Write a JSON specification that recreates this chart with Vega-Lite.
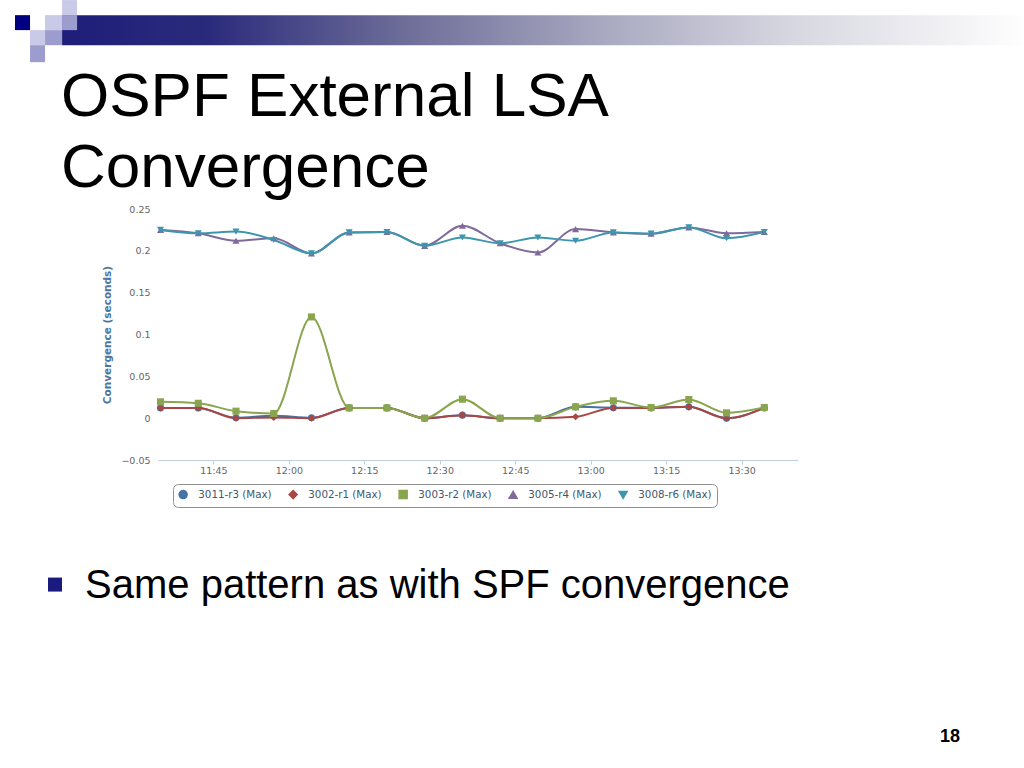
{
  "$schema": "https://vega.github.io/schema/vega-lite/v6.json",
  "width": 640,
  "height": 251,
  "autosize": {"type": "none"},
  "padding": {"left": 158, "top": 209, "right": 226, "bottom": 308},
  "background": "#ffffff",
  "config": {"view": {"stroke": null}},
  "title": {
    "text": ["OSPF External LSA", "Convergence"],
    "anchor": "start",
    "frame": "group",
    "font": "Liberation Sans",
    "fontSize": 62,
    "fontWeight": "normal",
    "color": "#000000",
    "lineHeight": 71,
    "dx": -97,
    "offset": -200
  },
  "datasets": {
    "conv": [
      {"series": "3011-r3 (Max)", "time": "2013-01-01T11:34:30", "value": 0.0123},
      {"series": "3011-r3 (Max)", "time": "2013-01-01T11:42:00", "value": 0.0123},
      {"series": "3011-r3 (Max)", "time": "2013-01-01T11:49:30", "value": 0.0005},
      {"series": "3011-r3 (Max)", "time": "2013-01-01T11:57:00", "value": 0.003},
      {"series": "3011-r3 (Max)", "time": "2013-01-01T12:04:30", "value": 0.0005},
      {"series": "3011-r3 (Max)", "time": "2013-01-01T12:12:00", "value": 0.0123},
      {"series": "3011-r3 (Max)", "time": "2013-01-01T12:19:30", "value": 0.0123},
      {"series": "3011-r3 (Max)", "time": "2013-01-01T12:27:00", "value": 0},
      {"series": "3011-r3 (Max)", "time": "2013-01-01T12:34:30", "value": 0.0036},
      {"series": "3011-r3 (Max)", "time": "2013-01-01T12:42:00", "value": 0},
      {"series": "3011-r3 (Max)", "time": "2013-01-01T12:49:30", "value": 0},
      {"series": "3011-r3 (Max)", "time": "2013-01-01T12:57:00", "value": 0.0135},
      {"series": "3011-r3 (Max)", "time": "2013-01-01T13:04:30", "value": 0.0125},
      {"series": "3011-r3 (Max)", "time": "2013-01-01T13:12:00", "value": 0.0123},
      {"series": "3011-r3 (Max)", "time": "2013-01-01T13:19:30", "value": 0.0135},
      {"series": "3011-r3 (Max)", "time": "2013-01-01T13:27:00", "value": 0},
      {"series": "3011-r3 (Max)", "time": "2013-01-01T13:34:30", "value": 0.0123},
      {"series": "3002-r1 (Max)", "time": "2013-01-01T11:34:30", "value": 0.0123},
      {"series": "3002-r1 (Max)", "time": "2013-01-01T11:42:00", "value": 0.0123},
      {"series": "3002-r1 (Max)", "time": "2013-01-01T11:49:30", "value": 0},
      {"series": "3002-r1 (Max)", "time": "2013-01-01T11:57:00", "value": 0.0008},
      {"series": "3002-r1 (Max)", "time": "2013-01-01T12:04:30", "value": 0},
      {"series": "3002-r1 (Max)", "time": "2013-01-01T12:12:00", "value": 0.0123},
      {"series": "3002-r1 (Max)", "time": "2013-01-01T12:19:30", "value": 0.0123},
      {"series": "3002-r1 (Max)", "time": "2013-01-01T12:27:00", "value": 0},
      {"series": "3002-r1 (Max)", "time": "2013-01-01T12:34:30", "value": 0.0036},
      {"series": "3002-r1 (Max)", "time": "2013-01-01T12:42:00", "value": 0},
      {"series": "3002-r1 (Max)", "time": "2013-01-01T12:49:30", "value": 0},
      {"series": "3002-r1 (Max)", "time": "2013-01-01T12:57:00", "value": 0.0016},
      {"series": "3002-r1 (Max)", "time": "2013-01-01T13:04:30", "value": 0.0123},
      {"series": "3002-r1 (Max)", "time": "2013-01-01T13:12:00", "value": 0.0123},
      {"series": "3002-r1 (Max)", "time": "2013-01-01T13:19:30", "value": 0.0135},
      {"series": "3002-r1 (Max)", "time": "2013-01-01T13:27:00", "value": 0},
      {"series": "3002-r1 (Max)", "time": "2013-01-01T13:34:30", "value": 0.0123},
      {"series": "3003-r2 (Max)", "time": "2013-01-01T11:34:30", "value": 0.0195},
      {"series": "3003-r2 (Max)", "time": "2013-01-01T11:42:00", "value": 0.0178},
      {"series": "3003-r2 (Max)", "time": "2013-01-01T11:49:30", "value": 0.0084},
      {"series": "3003-r2 (Max)", "time": "2013-01-01T11:57:00", "value": 0.0056},
      {"series": "3003-r2 (Max)", "time": "2013-01-01T12:04:30", "value": 0.121},
      {"series": "3003-r2 (Max)", "time": "2013-01-01T12:12:00", "value": 0.0123},
      {"series": "3003-r2 (Max)", "time": "2013-01-01T12:19:30", "value": 0.0123},
      {"series": "3003-r2 (Max)", "time": "2013-01-01T12:27:00", "value": 0},
      {"series": "3003-r2 (Max)", "time": "2013-01-01T12:34:30", "value": 0.0227},
      {"series": "3003-r2 (Max)", "time": "2013-01-01T12:42:00", "value": 0},
      {"series": "3003-r2 (Max)", "time": "2013-01-01T12:49:30", "value": 0},
      {"series": "3003-r2 (Max)", "time": "2013-01-01T12:57:00", "value": 0.0135},
      {"series": "3003-r2 (Max)", "time": "2013-01-01T13:04:30", "value": 0.0207},
      {"series": "3003-r2 (Max)", "time": "2013-01-01T13:12:00", "value": 0.0128},
      {"series": "3003-r2 (Max)", "time": "2013-01-01T13:19:30", "value": 0.0223},
      {"series": "3003-r2 (Max)", "time": "2013-01-01T13:27:00", "value": 0.0064},
      {"series": "3003-r2 (Max)", "time": "2013-01-01T13:34:30", "value": 0.0128},
      {"series": "3005-r4 (Max)", "time": "2013-01-01T11:34:30", "value": 0.225},
      {"series": "3005-r4 (Max)", "time": "2013-01-01T11:42:00", "value": 0.221},
      {"series": "3005-r4 (Max)", "time": "2013-01-01T11:49:30", "value": 0.212},
      {"series": "3005-r4 (Max)", "time": "2013-01-01T11:57:00", "value": 0.215},
      {"series": "3005-r4 (Max)", "time": "2013-01-01T12:04:30", "value": 0.197},
      {"series": "3005-r4 (Max)", "time": "2013-01-01T12:12:00", "value": 0.222},
      {"series": "3005-r4 (Max)", "time": "2013-01-01T12:19:30", "value": 0.2225},
      {"series": "3005-r4 (Max)", "time": "2013-01-01T12:27:00", "value": 0.206},
      {"series": "3005-r4 (Max)", "time": "2013-01-01T12:34:30", "value": 0.23},
      {"series": "3005-r4 (Max)", "time": "2013-01-01T12:42:00", "value": 0.209},
      {"series": "3005-r4 (Max)", "time": "2013-01-01T12:49:30", "value": 0.198},
      {"series": "3005-r4 (Max)", "time": "2013-01-01T12:57:00", "value": 0.226},
      {"series": "3005-r4 (Max)", "time": "2013-01-01T13:04:30", "value": 0.222},
      {"series": "3005-r4 (Max)", "time": "2013-01-01T13:12:00", "value": 0.2205},
      {"series": "3005-r4 (Max)", "time": "2013-01-01T13:19:30", "value": 0.228},
      {"series": "3005-r4 (Max)", "time": "2013-01-01T13:27:00", "value": 0.221},
      {"series": "3005-r4 (Max)", "time": "2013-01-01T13:34:30", "value": 0.2225},
      {"series": "3008-r6 (Max)", "time": "2013-01-01T11:34:30", "value": 0.225},
      {"series": "3008-r6 (Max)", "time": "2013-01-01T11:42:00", "value": 0.221},
      {"series": "3008-r6 (Max)", "time": "2013-01-01T11:49:30", "value": 0.223},
      {"series": "3008-r6 (Max)", "time": "2013-01-01T11:57:00", "value": 0.213},
      {"series": "3008-r6 (Max)", "time": "2013-01-01T12:04:30", "value": 0.197},
      {"series": "3008-r6 (Max)", "time": "2013-01-01T12:12:00", "value": 0.222},
      {"series": "3008-r6 (Max)", "time": "2013-01-01T12:19:30", "value": 0.2225},
      {"series": "3008-r6 (Max)", "time": "2013-01-01T12:27:00", "value": 0.206},
      {"series": "3008-r6 (Max)", "time": "2013-01-01T12:34:30", "value": 0.216},
      {"series": "3008-r6 (Max)", "time": "2013-01-01T12:42:00", "value": 0.209},
      {"series": "3008-r6 (Max)", "time": "2013-01-01T12:49:30", "value": 0.216},
      {"series": "3008-r6 (Max)", "time": "2013-01-01T12:57:00", "value": 0.212},
      {"series": "3008-r6 (Max)", "time": "2013-01-01T13:04:30", "value": 0.222},
      {"series": "3008-r6 (Max)", "time": "2013-01-01T13:12:00", "value": 0.2205},
      {"series": "3008-r6 (Max)", "time": "2013-01-01T13:19:30", "value": 0.228},
      {"series": "3008-r6 (Max)", "time": "2013-01-01T13:27:00", "value": 0.215},
      {"series": "3008-r6 (Max)", "time": "2013-01-01T13:34:30", "value": 0.2225}
    ],
    "page": [{"label": "18"}],
    "bullet": [{"label": "Same pattern as with SPF convergence"}],
    "deco": [{"part": "decoration"}]
  },
  "layer": [
    {
      "data": {"name": "deco"},
      "mark": {"type": "rect", "fill": {"gradient": "linear", "x1": 0, "y1": 0, "x2": 1, "y2": 0, "stops": [{"offset": 0, "color": "#1e1e7a"}, {"offset": 0.15, "color": "#2a2a7c"}, {"offset": 0.35, "color": "#6c6c98"}, {"offset": 0.55, "color": "#a6a6bf"}, {"offset": 0.75, "color": "#d6d6e0"}, {"offset": 1, "color": "#ffffff"}]}},
      "encoding": {
        "x": {"datum": {"year": 2013, "month": 1, "date": 1, "hours": 11, "minutes": 14, "seconds": 56}, "type": "temporal"},
        "x2": {"datum": {"year": 2013, "month": 1, "date": 1, "hours": 14, "minutes": 27, "seconds": 18}},
        "y": {"datum": 0.4817, "type": "quantitative"},
        "y2": {"datum": 0.4458}
      }
    },
    {
      "data": {"name": "deco"},
      "mark": {"type": "rect", "color": "#9c9ccf"},
      "encoding": {
        "x": {"datum": {"year": 2013, "month": 1, "date": 1, "hours": 11, "minutes": 14, "seconds": 56}, "type": "temporal"},
        "x2": {"datum": {"year": 2013, "month": 1, "date": 1, "hours": 11, "minutes": 17, "seconds": 55}},
        "y": {"datum": 0.4817, "type": "quantitative"},
        "y2": {"datum": 0.4638}
      }
    },
    {
      "data": {"name": "deco"},
      "mark": {"type": "rect", "color": "#c9c9e8"},
      "encoding": {
        "x": {"datum": {"year": 2013, "month": 1, "date": 1, "hours": 11, "minutes": 14, "seconds": 56}, "type": "temporal"},
        "x2": {"datum": {"year": 2013, "month": 1, "date": 1, "hours": 11, "minutes": 17, "seconds": 55}},
        "y": {"datum": 0.4997, "type": "quantitative"},
        "y2": {"datum": 0.4817}
      }
    },
    {
      "data": {"name": "deco"},
      "mark": {"type": "rect", "color": "#000080"},
      "encoding": {
        "x": {"datum": {"year": 2013, "month": 1, "date": 1, "hours": 11, "minutes": 5, "seconds": 35}, "type": "temporal"},
        "x2": {"datum": {"year": 2013, "month": 1, "date": 1, "hours": 11, "minutes": 8, "seconds": 34}},
        "y": {"datum": 0.4817, "type": "quantitative"},
        "y2": {"datum": 0.4638}
      }
    },
    {
      "data": {"name": "deco"},
      "mark": {"type": "rect", "color": "#c9c9e8"},
      "encoding": {
        "x": {"datum": {"year": 2013, "month": 1, "date": 1, "hours": 11, "minutes": 8, "seconds": 34}, "type": "temporal"},
        "x2": {"datum": {"year": 2013, "month": 1, "date": 1, "hours": 11, "minutes": 11, "seconds": 33}},
        "y": {"datum": 0.4638, "type": "quantitative"},
        "y2": {"datum": 0.4458}
      }
    },
    {
      "data": {"name": "deco"},
      "mark": {"type": "rect", "color": "#9c9ccf"},
      "encoding": {
        "x": {"datum": {"year": 2013, "month": 1, "date": 1, "hours": 11, "minutes": 8, "seconds": 34}, "type": "temporal"},
        "x2": {"datum": {"year": 2013, "month": 1, "date": 1, "hours": 11, "minutes": 11, "seconds": 33}},
        "y": {"datum": 0.4458, "type": "quantitative"},
        "y2": {"datum": 0.4255}
      }
    },
    {
      "data": {"name": "deco"},
      "mark": {"type": "rect", "color": "#c9c9e8"},
      "encoding": {
        "x": {"datum": {"year": 2013, "month": 1, "date": 1, "hours": 11, "minutes": 11, "seconds": 33}, "type": "temporal"},
        "x2": {"datum": {"year": 2013, "month": 1, "date": 1, "hours": 11, "minutes": 14, "seconds": 56}},
        "y": {"datum": 0.4817, "type": "quantitative"},
        "y2": {"datum": 0.4638}
      }
    },
    {
      "data": {"name": "deco"},
      "mark": {"type": "rect", "color": "#9c9ccf"},
      "encoding": {
        "x": {"datum": {"year": 2013, "month": 1, "date": 1, "hours": 11, "minutes": 11, "seconds": 33}, "type": "temporal"},
        "x2": {"datum": {"year": 2013, "month": 1, "date": 1, "hours": 11, "minutes": 14, "seconds": 56}},
        "y": {"datum": 0.4638, "type": "quantitative"},
        "y2": {"datum": 0.4458}
      }
    },
    {
      "data": {"name": "conv"},
      "mark": {"type": "line", "interpolate": "monotone", "strokeWidth": 2},
      "encoding": {
        "x": {
          "field": "time", "type": "temporal", "title": null,
          "scale": {"domain": ["2013-01-01T11:34:00", "2013-01-01T13:41:12"]},
          "axis": {"format": "%H:%M", "tickCount": 9, "grid": false, "domainColor": "#C0D0E0", "tickColor": "#C0D0E0", "tickSize": 4, "labelPadding": 1, "labelFont": "DejaVu Sans", "labelFontSize": 9.5, "labelColor": "#666666", "labelFlush": false, "labelOverlap": false}
        },
        "y": {
          "field": "value", "type": "quantitative", "title": "Convergence (seconds)",
          "scale": {"domain": [-0.05, 0.25], "nice": false, "zero": false},
          "axis": {"values": [-0.05, 0, 0.05, 0.1, 0.15, 0.2, 0.25], "labelExpr": "datum.value == 0 ? '0' : datum.value == 0.1 ? '0.1' : datum.value == 0.2 ? '0.2' : format(datum.value, '.2f')", "domain": false, "ticks": false, "gridColor": "#D0D0D0", "labelPadding": 8, "labelFont": "DejaVu Sans", "labelFontSize": 9.5, "labelColor": "#666666", "titleColor": "#4d759e", "titleFont": "DejaVu Sans", "titleFontSize": 10.5, "titleFontWeight": "bold", "titlePadding": 8}
        },
        "color": {
          "field": "series", "type": "nominal",
          "scale": {"domain": ["3011-r3 (Max)", "3002-r1 (Max)", "3003-r2 (Max)", "3005-r4 (Max)", "3008-r6 (Max)"], "range": ["#4572A7", "#AA4643", "#89A54E", "#80699B", "#3D96AE"]},
          "legend": {
            "title": null, "orient": "none", "legendX": 15, "legendY": 275, "direction": "horizontal",
            "padding": 5, "strokeColor": "#909090", "cornerRadius": 5, "fillColor": "#ffffff",
            "labelFont": "DejaVu Sans", "labelFontSize": 10.3, "labelColor": "#3E576F",
            "symbolSize": 64, "labelOffset": 10, "columnPadding": 14
          }
        }
      }
    },
    {
      "data": {"name": "conv"},
      "mark": {"type": "point", "filled": true, "size": 50, "opacity": 1},
      "encoding": {
        "x": {"field": "time", "type": "temporal", "title": null},
        "y": {"field": "value", "type": "quantitative"},
        "color": {"field": "series", "type": "nominal"},
        "shape": {
          "field": "series", "type": "nominal", "legend": null,
          "scale": {"domain": ["3011-r3 (Max)", "3002-r1 (Max)", "3003-r2 (Max)", "3005-r4 (Max)", "3008-r6 (Max)"], "range": ["circle", "diamond", "square", "triangle-up", "triangle-down"]}
        }
      }
    },
    {
      "data": {"name": "deco"},
      "mark": {"type": "square", "filled": true, "size": 196, "color": "#1a1a80", "opacity": 1},
      "encoding": {
        "x": {"datum": {"year": 2013, "month": 1, "date": 1, "hours": 11, "minutes": 13, "seconds": 32}, "type": "temporal"},
        "y": {"datum": -0.1989, "type": "quantitative"}
      }
    },
    {
      "data": {"name": "bullet"},
      "mark": {"type": "text", "align": "left", "baseline": "alphabetic", "font": "Liberation Sans", "fontSize": 40, "color": "#000000"},
      "encoding": {
        "x": {"datum": {"year": 2013, "month": 1, "date": 1, "hours": 11, "minutes": 19, "seconds": 30}, "type": "temporal"},
        "y": {"datum": -0.2145, "type": "quantitative"},
        "text": {"field": "label"}
      }
    },
    {
      "data": {"name": "page"},
      "mark": {"type": "text", "align": "center", "baseline": "alphabetic", "font": "Liberation Sans", "fontSize": 18, "fontWeight": "bold", "color": "#000000"},
      "encoding": {
        "x": {"datum": {"year": 2013, "month": 1, "date": 1, "hours": 14, "minutes": 11, "seconds": 24}, "type": "temporal"},
        "y": {"datum": -0.3867, "type": "quantitative"},
        "text": {"field": "label"}
      }
    }
  ]
}
